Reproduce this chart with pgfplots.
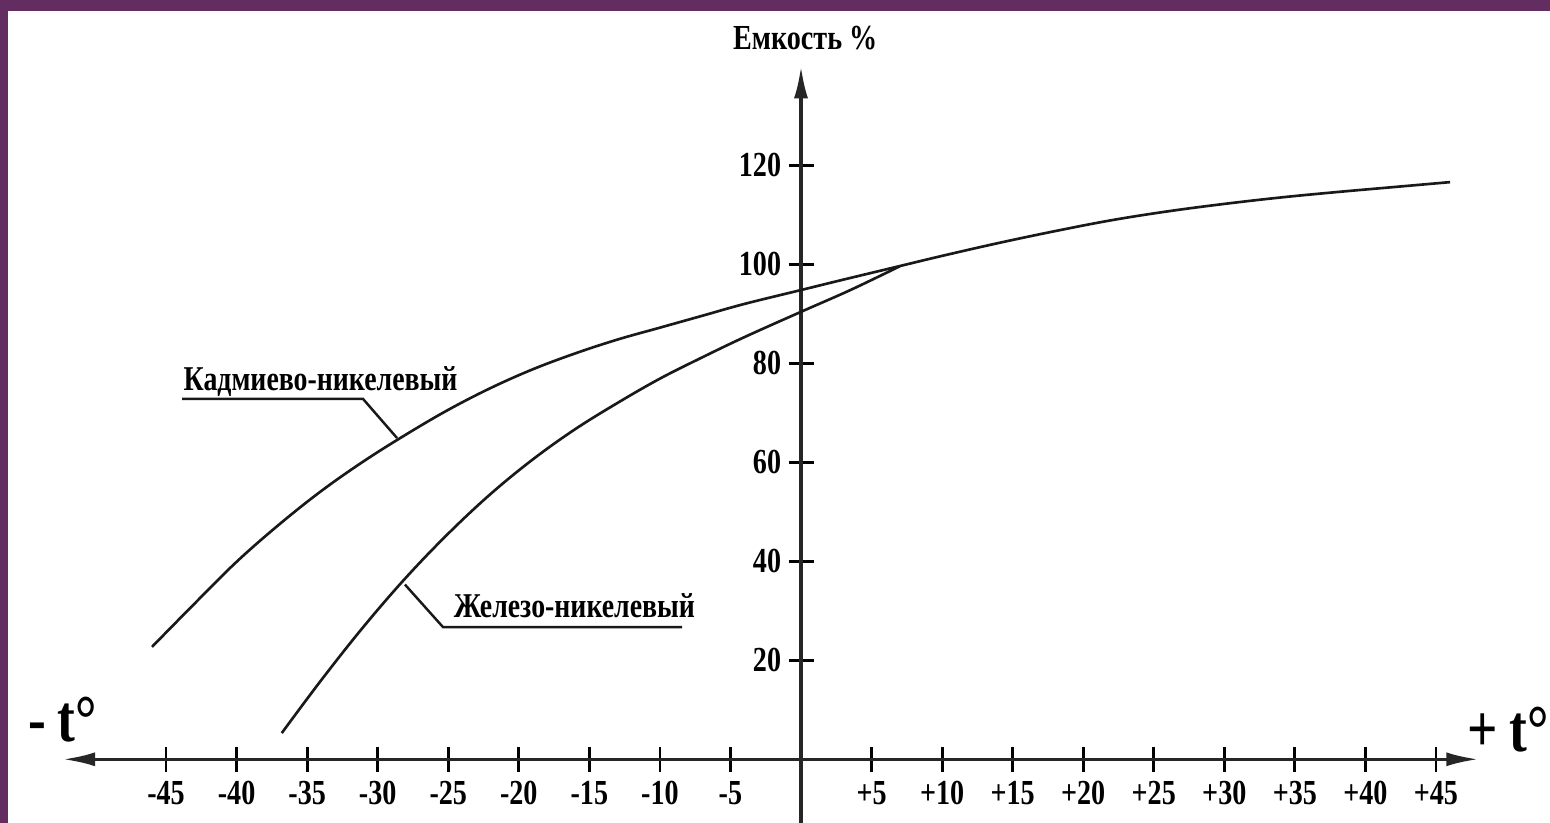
\documentclass[border=0pt]{standalone}
\usepackage{pgfplots}
\pgfplotsset{compat=1.18}
\usepackage{fontspec}
\setmainfont{Liberation Serif}[FakeStretch=0.8]
\usetikzlibrary{arrows.meta}
\definecolor{frame}{RGB}{99,45,97}

\pgfplotstableread{
t v
-46 22.7
-43 31.4
-40 39.9
-37 47.4
-34 54.2
-31 60.2
-28 65.6
-25 70.6
-22 75.0
-19 78.8
-16 82.0
-13 84.8
-10 87.2
-7 89.6
-4 92.0
0 94.8
3 96.9
6.5 99.3
10 101.7
14 104.3
18 106.7
22 108.9
26 110.7
30 112.2
34 113.5
38 114.6
42 115.6
46 116.6
}\cadmium

\pgfplotstableread{
t v
-36.8 5.3
-34 16.0
-31 26.8
-28 36.7
-25 45.6
-22 53.6
-19 60.6
-16 66.7
-13 72.0
-10 76.9
-7 81.2
-4 85.3
0 90.4
3.5 94.8
7.0 99.6
}\iron

\begin{document}
\begin{tikzpicture}[x=1cm,y=1cm]
\useasboundingbox (0,0) rectangle (15.5,8.23);
\fill[frame] (0,0) rectangle (15.5,8.23);
\fill[white] (0.08,0) rectangle (15.5,8.12);
\clip (0,0) rectangle (15.5,8.23);
\begin{axis}[
  x=0.1411cm, y=0.0495cm,
  anchor=origin, at={(8.01cm,0.637cm)},
  xmin=-52.3, xmax=48, ymin=-13, ymax=140,
  axis x line=middle, axis y line=middle,
  axis line style={line width=0.9pt, black!85},
  x axis line style={{Latex[length=3.2mm,width=1.4mm]}-{Latex[length=3.2mm,width=1.4mm]}},
  y axis line style={-{Latex[length=3.2mm,width=1.4mm]}},
  xtick={-45,-40,-35,-30,-25,-20,-15,-10,-5,5,10,15,20,25,30,35,40,45},
  xticklabels={-45,-40,-35,-30,-25,-20,-15,-10,-5,+5,+10,+15,+20,+25,+30,+35,+40,+45},
  ytick={20,40,60,80,100,120},
  yticklabels={20,40,60,80,100,120},
  tick align=center,
  major tick length=0.25cm,
  tick style={line width=0.8pt, black},
  tick label style={font=\bfseries\fontsize{10}{12}\selectfont},
  xticklabel style={yshift=0.03cm},
  yticklabel style={xshift=0.05cm},
  clip=false,
]
\addplot[black!90, line width=0.75pt, smooth, tension=0.6] table[x=t,y=v] {\cadmium};
\addplot[black!90, line width=0.75pt, smooth, tension=0.6] table[x=t,y=v] {\iron};

\draw[black!90, line width=0.7pt] (axis cs:-43.87,72.8) -- (axis cs:-31.04,72.8) -- (axis cs:-28.63,64.9);
\draw[black!90, line width=0.7pt] (axis cs:-28.07,35.3) -- (axis cs:-25.37,26.7) -- (axis cs:-8.43,26.7);

\node[anchor=base west, inner sep=0pt, font=\bfseries\fontsize{9.9}{12}\selectfont] at (axis cs:-43.8,74.6) {Кадмиево-никелевый};
\node[anchor=base west, inner sep=0pt, font=\bfseries\fontsize{9.9}{12}\selectfont] at (axis cs:-24.66,28.7) {Железо-никелевый};
\node[font=\bfseries\fontsize{10}{12}\selectfont] at (axis cs:0.3,145.8) {Емкость \%};
\node[anchor=base west, inner sep=0pt, font=\bfseries\fontsize{19}{22}\selectfont] at (axis cs:-54.8,3.5) {-\,t°};
\node[anchor=base west, inner sep=0pt, font=\bfseries\fontsize{19}{22}\selectfont] at (axis cs:47.2,1.5) {+\,t°};
\end{axis}
\end{tikzpicture}
\end{document}
